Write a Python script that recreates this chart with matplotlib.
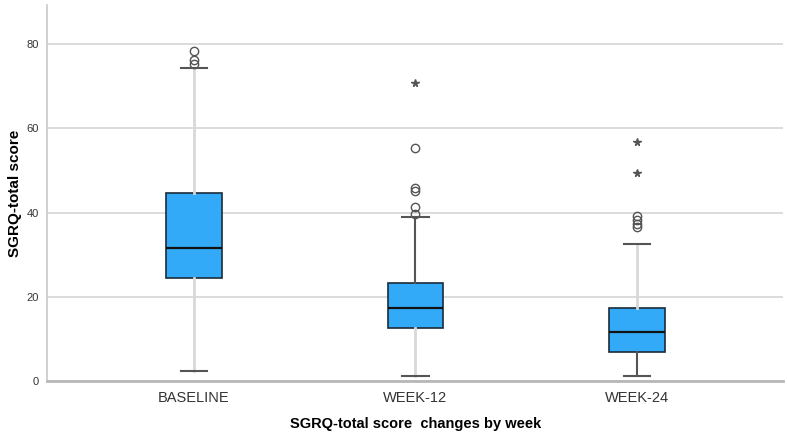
import matplotlib
matplotlib.use("Agg")
import matplotlib.pyplot as plt

plt.rcParams["font.family"] = ["Liberation Sans", "DejaVu Sans"]

# values
groups = ["BASELINE", "WEEK-12", "WEEK-24"]
q1 = [24.5, 12.6, 7.0]
median = [31.5, 17.4, 11.6]
q3 = [44.6, 23.3, 17.3]
whisker_low = [2.4, 1.2, 1.2]
whisker_high = [74.4, 38.9, 32.5]
outliers = [
    [75.3, 76.2, 78.4],
    [39.7, 41.4, 45.1, 45.8, 55.4],
    [36.6, 37.3, 38.2, 39.2],
]
extremes = [
    [],
    [70.7],
    [49.3, 56.8],
]

positions = [1, 2, 3]
stats = []
for i, g in enumerate(groups):
    stats.append({
        "label": g,
        "q1": q1[i], "med": median[i], "q3": q3[i],
        "whislo": whisker_low[i], "whishi": whisker_high[i],
        "fliers": outliers[i],
    })

fig = plt.figure(figsize=(7.87, 4.36), dpi=100)
ax = fig.add_axes([0.06, 0.126, 0.935, 0.863])

bp = ax.bxp(stats, positions=positions, widths=0.25, patch_artist=True,
            boxprops=dict(facecolor="#33aaf8", edgecolor="#1c2b3a", linewidth=1.2),
            medianprops=dict(color="#111111", linewidth=1.6),
            whiskerprops=dict(color="#d8d8d8", linewidth=2),
            capprops=dict(color="#555555", linewidth=1.5),
            flierprops=dict(marker="o", markersize=6, markerfacecolor="none",
                            markeredgecolor="#555555", markeredgewidth=1.0),
            capwidths=0.12, zorder=3)

# SPSS drew a couple of whiskers darker
bp["whiskers"][3].set_color("#555555")
bp["whiskers"][3].set_linewidth(1.5)
bp["whiskers"][4].set_color("#555555")
bp["whiskers"][4].set_linewidth(1.5)

for i, vals in enumerate(extremes):
    if vals:
        ax.plot([positions[i]] * len(vals), vals, linestyle="none", marker="*",
                markersize=5.5, color="#555555", zorder=4)

ax.set_xlim(0.338, 3.66)
ax.set_ylim(0, 89.3)
ax.set_yticks([0, 20, 40, 60, 80])
ax.yaxis.grid(True, color="#d6d6d6", linewidth=1.2, zorder=0)
ax.set_axisbelow(True)
ax.tick_params(axis="both", length=0)
ax.tick_params(axis="y", labelsize=8, colors="#333333", pad=6)
ax.tick_params(axis="x", labelsize=10.5, colors="#333333", pad=7)

for s in ["top", "right"]:
    ax.spines[s].set_visible(False)
ax.spines["left"].set_color("#c8c8c8")
ax.spines["left"].set_linewidth(1.2)
ax.spines["bottom"].set_color("#b8b8b8")
ax.spines["bottom"].set_linewidth(2)

ax.set_ylabel("SGRQ-total score", fontsize=11, fontweight="bold", labelpad=3)
ax.set_xlabel("SGRQ-total score  changes by week", fontsize=10.5, fontweight="bold", labelpad=9)

fig.savefig("out.png", dpi=100)
